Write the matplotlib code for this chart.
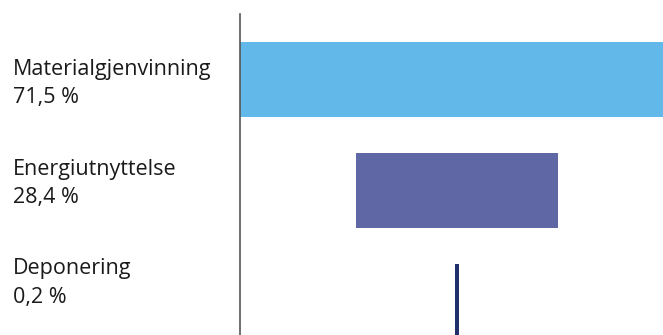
import numpy as np
import matplotlib.pyplot as plt

labels = ['Materialgjenvinning', 'Energiutnyttelse', 'Deponering']
values = [71.5, 28.4, 0.2]
colors = ['#62b9e9', '#5f67a5', '#20306a']

plt.rcParams['font.family'] = ['Open Sans', 'DejaVu Sans']

W, H = 663, 335
fig = plt.figure(figsize=(W / 100, H / 100), dpi=100)
# axes spans from the vertical line to the right edge, runs off the bottom
ax = fig.add_axes([240 / W, 0, 423 / W, 321 / H])

pos = np.arange(len(values))
# thin bars get a minimum visible width
widths = np.maximum(np.array(values), 0.56)
ax.barh(pos, widths, left=-widths / 2, height=0.676, color=colors)

ax.set_ylim(2.302, -0.590)
ax.set_xlim(-30.52, 28.97)

for s in ['top', 'right', 'bottom']:
    ax.spines[s].set_visible(False)
ax.spines['left'].set_color('#555555')
ax.spines['left'].set_linewidth(1.2)
ax.set_xticks([])
ax.set_yticks([])

# labels sit in a left column with their own spacing (in pixels from top)
for i, (lab, v) in enumerate(zip(labels, values)):
    y_name = 75 + 99.5 * i
    y_val = 103.5 + 100 * i
    fig.text(13 / W, 1 - y_name / H, lab, ha='left', va='baseline',
             fontsize=15.5, color='#1a1a1a')
    fig.text(13 / W, 1 - y_val / H, f'{v:.1f} %'.replace('.', ','),
             ha='left', va='baseline', fontsize=15.5, color='#1a1a1a')

fig.savefig('out.png', dpi=100)
